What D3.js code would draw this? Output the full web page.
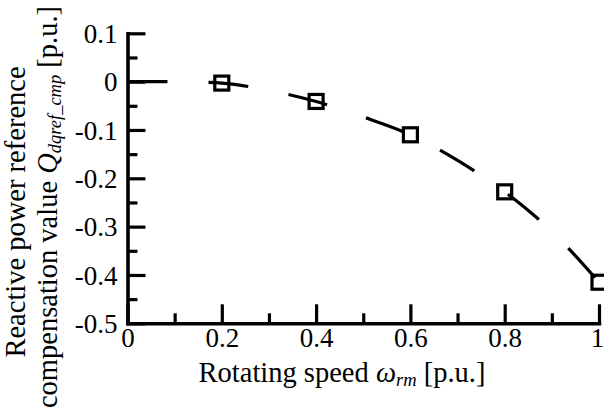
<!DOCTYPE html>
<html>
<head>
<meta charset="utf-8">
<script src="https://cdn.jsdelivr.net/npm/d3@7"></script>
</head>
<body style="margin:0;background:#fff">
<div id="chart"></div>
<script>
// curve
const speed = [0, 0.1, 0.15, 0.2, 0.3, 0.4, 0.5, 0.6, 0.7, 0.8, 0.9, 1.0];
const qComp = [0, 0, -0.001, -0.003, -0.018, -0.041, -0.073, -0.11, -0.163, -0.228, -0.31, -0.415];

// square markers
const markerSpeed = [0.2, 0.4, 0.6, 0.8, 1.0];
const markerQ = [-0.003, -0.041, -0.11, -0.228, -0.415];

const xTicks = [0, 0.2, 0.4, 0.6, 0.8, 1];
const xMinor = [0.1, 0.3, 0.5, 0.7, 0.9];
const yTicks = [0.1, 0, -0.1, -0.2, -0.3, -0.4, -0.5];
const yMinor = [0.05, -0.05, -0.15, -0.25, -0.35, -0.45];

const W = 604, H = 412;
const margin = { top: 33.3, left: 127.5 };
const width = 471.5, height = 290;
const tickSize = 27;
const titleSize = 28.5;
const subSize = 18.5;
const serif = "Liberation Serif";

const svg = d3.select("#chart").append("svg")
    .attr("width", W)
    .attr("height", H)
    .attr("font-family", serif)
    .attr("font-size", titleSize);

const g = svg.append("g")
    .attr("transform", `translate(${margin.left},${margin.top})`);

const x = d3.scaleLinear().domain([0, 1]).range([0, width]);
const y = d3.scaleLinear().domain([-0.5, 0.1]).range([height, 0]);

const fmt = d => d === 0 ? "0" : (d < 0 ? "-" : "") + Math.abs(d).toFixed(1).replace(/\.0$/, "");

// minor ticks first
g.append("g")
    .attr("transform", `translate(0,${height})`)
    .call(d3.axisBottom(x).tickValues(xMinor).tickSize(-10).tickFormat(""))
    .call(a => a.select(".domain").remove());
g.append("g")
    .call(d3.axisLeft(y).tickValues(yMinor).tickSize(-10).tickFormat(""))
    .call(a => a.select(".domain").remove());

const xAxis = g.append("g")
    .attr("transform", `translate(0,${height})`)
    .call(d3.axisBottom(x).tickValues(xTicks).tickSize(-19).tickSizeOuter(0).tickPadding(4.5).tickFormat(fmt));

// last label sits on the right edge, pull it in a little
xAxis.selectAll(".tick text").filter(d => d === 1).attr("dx", -2);

const yAxis = g.append("g")
    .call(d3.axisLeft(y).tickValues(yTicks).tickSize(-18).tickSizeOuter(0).tickPadding(10).tickFormat(fmt));

yAxis.selectAll("text").attr("dy", "0.34em");

// d3 puts sans-serif 10px on the axis groups, undo that
g.selectAll("g").attr("font-family", serif).attr("font-size", tickSize);
g.selectAll(".tick line").attr("stroke", "#000").attr("stroke-width", 3.2);
g.selectAll(".domain").attr("stroke", "#000").attr("stroke-width", 3.6).attr("stroke-linecap", "square");
g.selectAll(".tick text").attr("fill", "#000");

// dashed curve
const pts = speed.map((s, i) => [s, qComp[i]]);
const line = d3.line()
    .x(d => x(d[0]))
    .y(d => y(d[1]))
    .curve(d3.curveMonotoneX);

g.append("path")
    .datum(pts)
    .attr("d", line)
    .attr("fill", "none")
    .attr("stroke", "#000")
    .attr("stroke-width", 3.2)
    .attr("stroke-dasharray", "40,41");

g.selectAll(".marker")
    .data(markerSpeed.map((s, i) => [s, markerQ[i]]))
    .enter().append("rect")
    .attr("class", "marker")
    .attr("x", d => x(d[0]) - 7)
    .attr("y", d => y(d[1]) - 7)
    .attr("width", 14)
    .attr("height", 14)
    .attr("fill", "none")
    .attr("stroke", "#000")
    .attr("stroke-width", 3.2);

// x title
const xt = svg.append("text")
    .attr("x", 342)
    .attr("y", 382)
    .attr("text-anchor", "middle");
xt.append("tspan").text("Rotating speed ");
xt.append("tspan").attr("font-style", "italic").text("\u03c9");
xt.append("tspan").attr("font-style", "italic").attr("font-size", subSize).attr("dy", 4).text("rm");
xt.append("tspan").attr("dy", -4).text(" [p.u.]");

// y title, two lines
const yt = svg.append("g").attr("transform", "rotate(-90)");
yt.append("text")
    .attr("x", -212)
    .attr("y", 25)
    .attr("text-anchor", "middle")
    .text("Reactive power reference");
const yt2 = yt.append("text")
    .attr("x", -207)
    .attr("y", 57)
    .attr("text-anchor", "middle");
yt2.append("tspan").text("compensation value ");
yt2.append("tspan").attr("font-style", "italic").text("Q");
yt2.append("tspan").attr("font-style", "italic").attr("font-size", subSize).attr("dy", 4).text("dqref_cmp");
yt2.append("tspan").attr("dy", -4).text(" [p.u.]");
</script>
</body>
</html>
